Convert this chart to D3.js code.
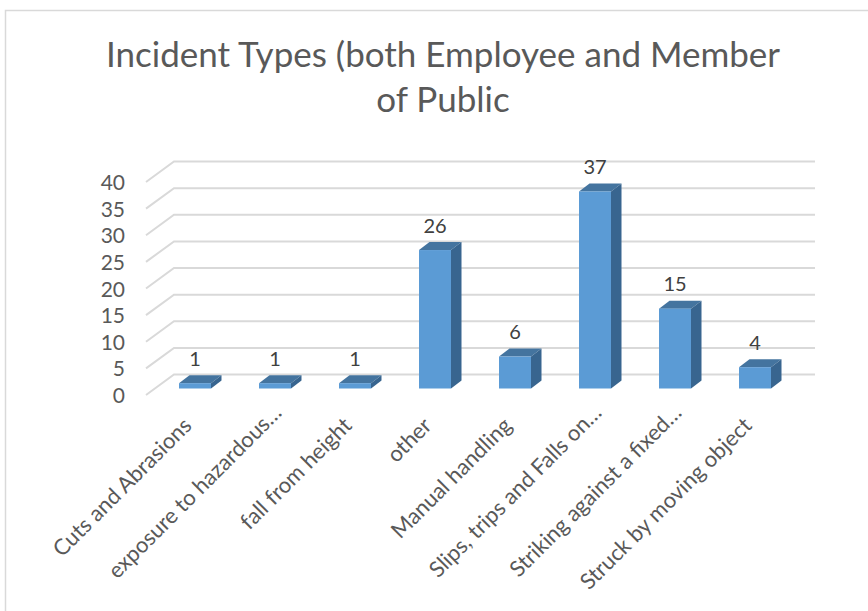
<!DOCTYPE html>
<html lang="en">
<head>
<meta charset="UTF-8">
<title>Incident Types</title>
<script src="https://d3js.org/d3.v7.min.js"></script>
<style>
    body { margin: 0; background: #fff; font-family: Lato, sans-serif; }
    svg { display: block; }
    text { fill: #595959; }
</style>
</head>
<body>
<svg id="chart" width="868" height="611"></svg>
<script>
const categories = ["Cuts and Abrasions", "exposure to hazardous\u2026", "fall from height", "other",
    "Manual handling", "Slips, trips and Falls on\u2026", "Striking against a fixed\u2026", "Struck by moving object"];
const incidents = [1, 1, 1, 26, 6, 37, 15, 4];
const yTicks = [0, 5, 10, 15, 20, 25, 30, 35, 40];
const titleLines = ["Incident Types (both Employee and Member", "of Public"];

const svg = d3.select("#chart");

// frame, only top and left show in the crop
svg.append("path").attr("d", "M5.5,611V10.5H868")
    .attr("fill", "none").attr("stroke", "#d9d9d9").attr("stroke-width", 1.5);

svg.selectAll(".title").data(titleLines).enter().append("text")
    .attr("class", "title")
    .attr("x", 443).attr("y", (d, i) => 67 + i * 45)
    .attr("text-anchor", "middle").attr("font-size", 35).text(d => d);

// front plane scales
const x = d3.scaleBand().domain(categories).range([155, 795]).paddingInner(0.6).paddingOuter(0.3);
const y = d3.scaleLinear().domain([0, 40]).range([395, 182]);

// pseudo 3d offsets
const wallDx = 28, wallDy = -20.5;
const barDx = 10.5, barDy = -8;
const barBase = -6.5; // bars sit a little behind the front edge of the floor

// gridlines
const grid = svg.append("g");
yTicks.forEach(t => {
    grid.append("path")
        .attr("d", `M146,${y(t)}L${146 + wallDx},${y(t) + wallDy}H815`)
        .attr("fill", "none").attr("stroke", "#d9d9d9").attr("stroke-width", 2);
});

// y axis labels
svg.selectAll(".ytick").data(yTicks).enter().append("text")
    .attr("class", "ytick")
    .attr("x", 125).attr("y", d => y(d) + 8)
    .attr("text-anchor", "end").attr("font-size", 21).text(d => d);

// bars
const bars = svg.selectAll(".bar").data(categories).enter().append("g").attr("class", "bar");
const bx = d => x(d);
const val = (d, i) => incidents[i];
bars.append("path").attr("fill", "#44749f")
    .attr("d", (d, i) => {
        const top = y(val(d, i)) + barBase, l = bx(d), w = x.bandwidth();
        return `M${l},${top}L${l + barDx},${top + barDy}H${l + w + barDx}L${l + w},${top}Z`;
    });
bars.append("path").attr("fill", "#38658f")
    .attr("d", (d, i) => {
        const top = y(val(d, i)) + barBase, base = y(0) + barBase, r = bx(d) + x.bandwidth();
        return `M${r},${top}L${r + barDx},${top + barDy}V${base + barDy}L${r},${base}Z`;
    });
bars.append("rect").attr("fill", "#5b9bd5")
    .attr("x", d => bx(d)).attr("width", x.bandwidth())
    .attr("y", (d, i) => y(val(d, i)) + barBase)
    .attr("height", (d, i) => y(0) - y(val(d, i)));

// data labels
svg.selectAll(".dlabel").data(categories).enter().append("text")
    .attr("class", "dlabel")
    .attr("x", d => bx(d) + x.bandwidth() / 2)
    .attr("y", (d, i) => y(incidents[i]) + barBase - 17.5)
    .attr("text-anchor", "middle").attr("font-size", 20).style("fill", "#404040")
    .text((d, i) => incidents[i]);

// category labels, truncated ones end a bit further up the diagonal
const isCut = d => d.endsWith("\u2026");
svg.selectAll(".xlabel").data(categories).enter().append("text")
    .attr("class", "xlabel")
    .attr("text-anchor", "end").attr("font-size", 22)
    .attr("transform", d => `translate(${bx(d) + x.bandwidth() / 2 - 2 + (isCut(d) ? 10 : 0)},${427 - (isCut(d) ? 13 : 0)}) rotate(-45)`)
    .text(d => d);
</script>
</body>
</html>
